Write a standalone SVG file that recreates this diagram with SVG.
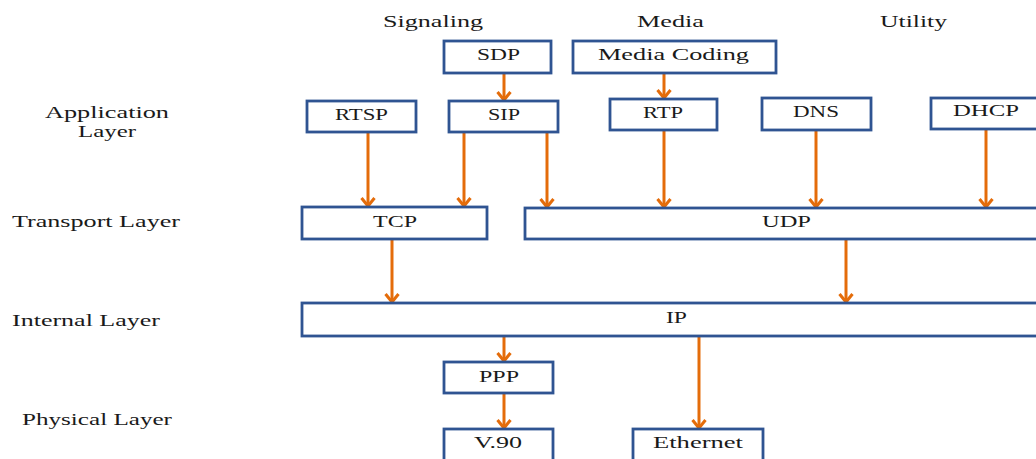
<svg xmlns="http://www.w3.org/2000/svg" width="1036" height="459" viewBox="0 0 1036 459">
<style>
.box{fill:#fff;stroke:#2F5492;stroke-width:2.8}
.t{font-family:"Liberation Serif","DejaVu Serif",serif;font-size:16.5px;fill:#1a1a1a}
.c{stroke:#E46C0A;stroke-width:3;fill:none;marker-end:url(#ah)}
</style>
<defs>
<marker id="ah" viewBox="0 -8 12 16" refX="10" refY="0" markerWidth="12" markerHeight="16" markerUnits="userSpaceOnUse" orient="auto" overflow="visible">
<path d="M2,-6.5 L10,0 L2,6.5" fill="none" stroke="#E46C0A" stroke-width="3"/>
</marker>
</defs>
<rect width="1036" height="459" fill="#fff"/>
<g id="labels">
<text class="t" x="383" y="27" textLength="100" lengthAdjust="spacingAndGlyphs">Signaling</text>
<text class="t" x="637" y="27" textLength="67" lengthAdjust="spacingAndGlyphs">Media</text>
<text class="t" x="880" y="27" textLength="67" lengthAdjust="spacingAndGlyphs">Utility</text>
<text class="t" x="45" y="118" textLength="124" lengthAdjust="spacingAndGlyphs">Application</text>
<text class="t" x="78" y="137" textLength="58" lengthAdjust="spacingAndGlyphs">Layer</text>
<text class="t" x="12" y="227" textLength="168" lengthAdjust="spacingAndGlyphs">Transport Layer</text>
<text class="t" x="12" y="326" textLength="148" lengthAdjust="spacingAndGlyphs">Internal Layer</text>
<text class="t" x="22" y="425" textLength="150" lengthAdjust="spacingAndGlyphs">Physical Layer</text>
</g>
<g id="connectors">
<line class="c" x1="504" y1="73" x2="504" y2="100"/>
<line class="c" x1="664" y1="73" x2="664" y2="98"/>
<line class="c" x1="368" y1="132" x2="368" y2="206"/>
<line class="c" x1="464" y1="132" x2="464" y2="206"/>
<line class="c" x1="547" y1="132" x2="547" y2="207"/>
<line class="c" x1="664" y1="130" x2="664" y2="207"/>
<line class="c" x1="816" y1="130" x2="816" y2="207"/>
<line class="c" x1="986" y1="129" x2="986" y2="207"/>
<line class="c" x1="392" y1="239" x2="392" y2="302"/>
<line class="c" x1="846" y1="239" x2="846" y2="302"/>
<line class="c" x1="504" y1="336" x2="504" y2="361"/>
<line class="c" x1="504" y1="393" x2="504" y2="428"/>
<line class="c" x1="699" y1="336" x2="699" y2="428"/>
</g>
<g id="SDP"><rect class="box" x="444" y="41" width="107" height="32"/><text class="t" x="477" y="60" textLength="43" lengthAdjust="spacingAndGlyphs">SDP</text></g>
<g id="MediaCoding"><rect class="box" x="573" y="41" width="203" height="32"/><text class="t" x="598" y="60" textLength="151" lengthAdjust="spacingAndGlyphs">Media Coding</text></g>
<g id="RTSP"><rect class="box" x="307" y="101" width="109" height="31"/><text class="t" x="335" y="120" textLength="53" lengthAdjust="spacingAndGlyphs">RTSP</text></g>
<g id="SIP"><rect class="box" x="449" y="101" width="109" height="31"/><text class="t" x="488" y="120" textLength="32" lengthAdjust="spacingAndGlyphs">SIP</text></g>
<g id="RTP"><rect class="box" x="610" y="99" width="107" height="31"/><text class="t" x="643" y="118" textLength="40" lengthAdjust="spacingAndGlyphs">RTP</text></g>
<g id="DNS"><rect class="box" x="762" y="98" width="109" height="32"/><text class="t" x="793" y="117" textLength="46" lengthAdjust="spacingAndGlyphs">DNS</text></g>
<g id="DHCP"><rect class="box" x="931" y="98" width="110" height="31"/><text class="t" x="953" y="116" textLength="66" lengthAdjust="spacingAndGlyphs">DHCP</text></g>
<g id="TCP"><rect class="box" x="302" y="207" width="185" height="32"/><text class="t" x="373" y="227" textLength="44" lengthAdjust="spacingAndGlyphs">TCP</text></g>
<g id="UDP"><rect class="box" x="525" y="208" width="524" height="31"/><text class="t" x="762" y="227" textLength="49" lengthAdjust="spacingAndGlyphs">UDP</text></g>
<g id="IP"><rect class="box" x="302" y="303" width="748" height="33"/><text class="t" x="666" y="323" textLength="21" lengthAdjust="spacingAndGlyphs">IP</text></g>
<g id="PPP"><rect class="box" x="444" y="362" width="109" height="31"/><text class="t" x="479" y="382" textLength="40" lengthAdjust="spacingAndGlyphs">PPP</text></g>
<g id="V90"><rect class="box" x="444" y="429" width="109" height="40"/><text class="t" x="474" y="448" textLength="48" lengthAdjust="spacingAndGlyphs">V.90</text></g>
<g id="Ethernet"><rect class="box" x="633" y="429" width="130" height="40"/><text class="t" x="653" y="448" textLength="90" lengthAdjust="spacingAndGlyphs">Ethernet</text></g>
</svg>
